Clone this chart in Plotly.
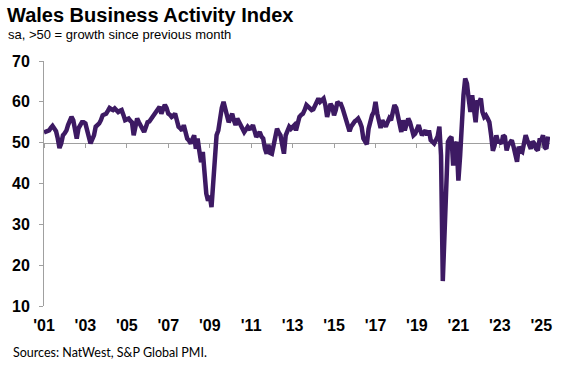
import pandas as pd
import plotly.graph_objects as go

# Monthly values, Jan 2001 .. May 2025
v2001 = [52.5, 52.6, 52.8, 53.0, 53.6, 54.1, 53.5, 52.8, 51.0, 48.7, 49.8, 51.8]
v2002 = [52.3, 53.0, 54.3, 55.2, 56.3, 55.5, 53.0, 51.0, 53.5, 54.6, 55.0, 55.0]
v2003 = [54.7, 53.0, 51.0, 49.8, 50.8, 51.8, 53.9, 54.2, 54.7, 55.5, 56.7, 56.9]
v2004 = [57.1, 57.8, 58.5, 58.2, 58.0, 58.4, 57.9, 57.5, 57.8, 58.0, 56.8, 55.5]
v2005 = [55.7, 55.9, 55.4, 55.0, 51.8, 53.8, 55.9, 55.0, 54.3, 53.5, 52.6, 53.8]
v2006 = [55.0, 55.2, 55.8, 56.3, 57.0, 57.5, 58.0, 58.8, 57.1, 58.0, 59.3, 58.5]
v2007 = [57.1, 56.8, 56.3, 56.6, 57.1, 55.5, 53.9, 53.5, 53.0, 54.3, 52.5, 51.0]
v2008 = [50.5, 49.8, 50.8, 51.8, 48.5, 51.0, 48.0, 45.2, 47.7, 42.0, 37.5, 35.8]
v2009 = [37.0, 34.2, 39.0, 47.0, 51.8, 53.0, 56.5, 58.5, 60.0, 58.0, 56.0, 55.0]
v2010 = [56.0, 57.1, 55.5, 54.3, 55.9, 55.0, 54.7, 53.5, 52.6, 53.2, 53.9, 53.4]
v2011 = [53.5, 54.3, 53.0, 51.4, 52.0, 52.6, 51.5, 51.0, 48.5, 47.3, 49.5, 47.5]
v2012 = [47.3, 49.0, 51.0, 53.4, 52.5, 51.8, 49.5, 47.3, 51.8, 53.0, 53.9, 53.4]
v2013 = [54.0, 54.3, 53.0, 55.0, 56.3, 56.8, 57.1, 58.0, 59.2, 58.8, 58.4, 58.0]
v2014 = [58.2, 59.3, 60.0, 60.8, 60.0, 60.5, 60.8, 59.2, 56.3, 58.0, 59.5, 58.8]
v2015 = [56.7, 58.0, 60.0, 59.5, 59.5, 58.4, 57.0, 55.0, 53.5, 52.8, 54.0, 54.7]
v2016 = [55.2, 55.5, 55.9, 55.0, 53.9, 51.0, 50.5, 49.6, 53.4, 55.5, 56.7, 57.5]
v2017 = [60.0, 57.1, 55.0, 53.6, 55.5, 54.5, 53.9, 55.0, 56.0, 55.5, 58.0, 59.2]
v2018 = [58.5, 56.7, 55.5, 52.6, 55.5, 53.0, 54.5, 55.9, 55.0, 53.0, 51.8, 52.2]
v2019 = [53.0, 54.3, 53.0, 51.8, 52.5, 53.0, 51.8, 53.0, 50.6, 50.0, 49.8, 50.6]
v2020 = [51.5, 53.9, 46.9, 16.1, 30.0, 45.0, 50.2, 51.0, 51.4, 44.4, 49.3, 50.2]
v2021 = [40.7, 46.9, 55.0, 61.6, 65.7, 64.5, 60.8, 57.5, 61.6, 57.1, 55.0, 59.9]
v2022 = [59.9, 60.8, 57.5, 56.3, 56.7, 55.9, 55.0, 51.8, 48.0, 49.3, 51.8, 50.2]
v2023 = [50.2, 49.8, 51.8, 51.4, 48.1, 49.5, 50.2, 50.6, 49.0, 46.9, 45.3, 49.0]
v2024 = [48.0, 47.7, 50.6, 51.8, 50.6, 49.5, 48.5, 50.3, 49.8, 48.5, 48.1, 50.6]
v2025 = [50.6, 51.8, 48.9, 48.5, 51.5]

values = (v2001 + v2002 + v2003 + v2004 + v2005 + v2006 + v2007 + v2008 + v2009
          + v2010 + v2011 + v2012 + v2013 + v2014 + v2015 + v2016 + v2017 + v2018
          + v2019 + v2020 + v2021 + v2022 + v2023 + v2024 + v2025)
dates = pd.date_range("2001-01-01", periods=len(values), freq="MS")

tick_years = [2001, 2003, 2005, 2007, 2009, 2011, 2013, 2015, 2017, 2019, 2021, 2023, 2025]
tick_labels = ["'01", "'03", "'05", "'07", "'09", "'11", "'13", "'15", "'17", "'19", "'21", "'23", "'25"]
tick_vals = [pd.Timestamp(f"{y}-01-01") for y in tick_years]

y_ticks = [10, 20, 30, 40, 50, 60, 70]

LINE = "#3d1a63"
AXIS = "#a0a0a0"
FONT = "Liberation Sans, Arial, sans-serif"

fig = go.Figure()
# invisible trace to anchor the label axis
fig.add_trace(go.Scatter(x=[dates[0]], y=[50], mode="markers", marker=dict(opacity=0),
                         hoverinfo="skip", showlegend=False, xaxis="x", yaxis="y"))
fig.add_trace(go.Scatter(x=dates, y=values, mode="lines",
                         line=dict(color=LINE, width=4.5), showlegend=False,
                         xaxis="x2", yaxis="y"))

x_range = [pd.Timestamp("2001-01-01"), pd.Timestamp("2025-06-04")]

fig.update_layout(
    width=561, height=370,
    margin=dict(l=44, r=9, t=61, b=64),
    paper_bgcolor="white", plot_bgcolor="white",
    font=dict(family=FONT, color="black"),
    xaxis=dict(type="date", range=x_range, tickvals=tick_vals, ticktext=tick_labels,
               showline=False, ticks="", showgrid=False, zeroline=False,
               tickfont=dict(size=16, family=FONT, weight="bold"),
               ticklabelstandoff=8),
    xaxis2=dict(type="date", range=x_range, overlaying="x", anchor="free",
                position=(50 - 10) / (70 - 10), side="bottom",
                tickvals=tick_vals, showticklabels=False,
                showline=True, linecolor=AXIS, linewidth=1,
                ticks="outside", ticklen=4, tickcolor=AXIS, tickwidth=1,
                showgrid=False, zeroline=False, layer="below traces"),
    yaxis=dict(range=[10, 70], tickvals=y_ticks, showline=True, linecolor=AXIS,
               linewidth=1, ticks="outside", ticklen=4, tickcolor=AXIS,
               showgrid=False, zeroline=False,
               tickfont=dict(size=16, family=FONT, weight="bold"),
               ticklabelstandoff=6),
    annotations=[
        dict(text="<b>Wales Business Activity Index</b>", xref="paper", yref="paper",
             x=(5 - 44) / 508, y=(306 - 15) / 245, xanchor="left", yanchor="middle",
             showarrow=False, font=dict(size=20, family=FONT, color="black")),
        dict(text="sa, >50 = growth since previous month", xref="paper", yref="paper",
             x=(6 - 44) / 508, y=(306 - 34) / 245, xanchor="left", yanchor="middle",
             showarrow=False, font=dict(size=13, family=FONT, color="black")),
        dict(text="Sources: NatWest, S&P Global PMI.", xref="paper", yref="paper",
             x=(11 - 44) / 508, y=(306 - 352) / 245, xanchor="left", yanchor="middle",
             showarrow=False, font=dict(size=12.5, family="Lato, Carlito, sans-serif", color="black")),
    ],
)

fig.write_html("out.html", config={"displayModeBar": False},
               post_script="document.body.style.margin='0';document.body.style.padding='0';")
